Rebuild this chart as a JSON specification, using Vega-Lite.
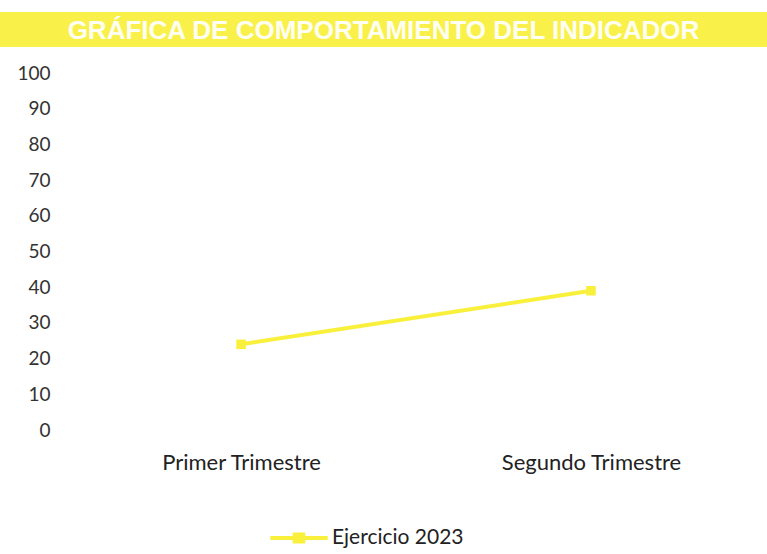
{
  "$schema": "https://vega.github.io/schema/vega-lite/v6.json",
  "padding": {"top": 12, "left": 0, "right": 0, "bottom": 0},
  "background": "white",
  "config": {"view": {"stroke": null}, "concat": {"spacing": 17}},
  "datasets": {
    "header": [{"titulo": "GRÁFICA DE COMPORTAMIENTO DEL INDICADOR"}],
    "serie": [
      {"trimestre": "Primer Trimestre", "valor": 24, "serie": "Ejercicio 2023"},
      {"trimestre": "Segundo Trimestre", "valor": 39, "serie": "Ejercicio 2023"}
    ]
  },
  "vconcat": [
    {
      "width": 767,
      "height": 35,
      "view": {"fill": "#F9F04A", "stroke": null},
      "data": {"name": "header"},
      "mark": {"type": "text", "font": "Liberation Sans", "fontWeight": "bold", "fontSize": 26, "color": "#FFFFF2", "align": "center", "baseline": "middle", "dy": 1},
      "encoding": {"text": {"field": "titulo"}}
    },
    {
      "width": 767,
      "height": 357,
      "data": {"name": "serie"},
      "mark": {"type": "line", "strokeWidth": 4, "point": {"filled": true, "size": 90, "shape": "square"}},
      "encoding": {
        "x": {
          "field": "trimestre", "type": "ordinal", "sort": null,
          "scale": {"type": "point", "padding": 0.596, "align": 0.578},
          "axis": {"title": null, "labelAngle": 0, "domain": false, "ticks": false, "grid": false, "labelFont": "Lato", "labelFontSize": 22, "labelColor": "#222222", "labelPadding": 22, "labelLimit": 400}
        },
        "y": {
          "field": "valor", "type": "quantitative",
          "scale": {"domain": [0, 100], "nice": false},
          "axis": {"title": null, "values": [0, 10, 20, 30, 40, 50, 60, 70, 80, 90, 100], "domain": false, "ticks": false, "grid": false, "labelFont": "Lato", "labelFontSize": 19, "labelColor": "#333333", "labelPadding": 16, "offset": -66}
        },
        "color": {
          "field": "serie", "type": "nominal",
          "scale": {"range": ["#F9F03C"]},
          "legend": {
            "title": null, "orient": "none", "legendX": 268, "legendY": 495,
            "symbolType": "M-1,0L1,0M-0.15,-0.12L0.15,-0.12L0.15,0.12L-0.15,0.12Z",
            "symbolSize": 3300, "symbolStrokeWidth": 4, "symbolFillColor": "#F9F03C",
            "labelFont": "Lato", "labelFontSize": 21, "labelColor": "#222222", "labelOffset": 2
          }
        }
      }
    }
  ]
}
